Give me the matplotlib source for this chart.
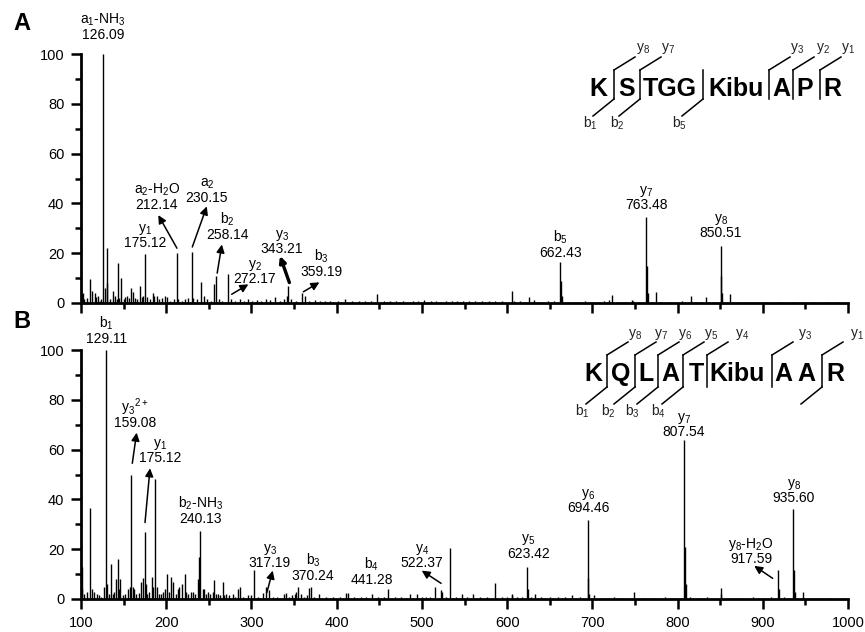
import matplotlib
matplotlib.use('Agg')
import matplotlib.pyplot as plt
from matplotlib.ticker import MultipleLocator
from matplotlib.transforms import Affine2D
from matplotlib.lines import Line2D

plt.rcParams['font.family'] = ['Liberation Sans', 'DejaVu Sans']
plt.rcParams['mathtext.default'] = 'regular'

W, H = 865, 632

# ---- panel A : KSTGGKibuAPR ----
mz_a = [100.8, 102, 104, 107, 110.5, 113, 116, 118, 120, 122, 124, 126.09, 128, 130, 131,
        134, 137, 140, 142, 143.5, 145, 147.4, 150, 152, 154, 156, 159, 161, 163, 166,
        169, 171, 173, 175.12, 178, 181, 184.6, 186, 188.6, 192, 195, 199, 201, 205, 209,
        212.14, 214, 218, 222, 226, 230.15, 232, 236, 240.7, 244, 248, 252, 256, 258.14,
        262, 266, 272.17, 276, 281, 286, 291, 296, 301, 306, 311, 317.6, 322, 327.4, 333,
        338, 341.9, 343.21, 346, 352, 359.19, 362.6, 367, 374.6, 381, 386, 392, 401, 410,
        418, 426, 433, 440, 447, 455, 462, 470, 478, 489, 496, 503, 511, 517, 528, 535,
        541, 548, 555, 562, 570, 579, 586, 594, 605.5, 608, 615, 626, 631.7, 640, 648, 655,
        662.43, 663.4, 664.4, 672, 681, 691.5, 700, 708, 714, 719, 723.6, 730, 738, 746.3,
        748, 754, 763.48, 764.5, 765.5, 769, 774.5, 780, 792, 805, 815.6, 822, 828, 833.5,
        842, 850.51, 851.5, 852.5, 861.7, 869, 880, 893, 905, 920, 935, 948, 960, 975, 990]
int_a = [3.5, 4, 1.5, 2, 9.5, 5, 4, 2.5, 3, 1, 1.5, 100, 6, 22, 8,
         1.5, 5, 3, 1.5, 16, 2, 10, 1.5, 2.5, 3, 2, 6, 4.5, 2, 1.5,
         7, 2.5, 3, 19.5, 2.5, 1.5, 4, 3, 3, 1.5, 2, 3, 2.5, 1, 1.5,
         20, 1.5, 1, 1.5, 2, 20.5, 2, 1.5, 8.5, 3, 1.5, 1, 7.5, 11,
         1.5, 1, 11.5, 1.5, 1, 1.5, 1, 1.5, 1, 1.2, 1, 1.5, 1.2, 2.5, 1,
         1.5, 3, 7, 1.5, 1, 4, 3, 1, 1.2, 0.8, 1, 0.8, 1, 1.5,
         0.8, 1, 0.7, 1, 3.5, 0.8, 1, 0.7, 1, 0.8, 1, 1.3, 0.8, 1, 0.7, 1,
         0.8, 1, 0.7, 0.8, 1, 0.8, 0.7, 0.9, 5, 1, 0.8, 2.5, 1.2, 0.6, 0.7, 0.8,
         16.5, 9, 3, 0.6, 0.5, 1, 0.5, 0.6, 0.8, 1.2, 3.3, 0.5, 0.6, 1.3,
         1, 0.5, 34.5, 15, 4, 0.6, 4.3, 0.5, 0.5, 0.8, 2.7, 0.6, 0.5, 2.3,
         0.5, 23, 11, 4, 3.5, 0.5, 0.4, 0.5, 0.4, 0.4, 0.5, 0.4, 0.4, 0.3, 0.3]

ion_a_name = ['a$_1$-NH$_3$', 'y$_1$', 'a$_2$-H$_2$O', 'a$_2$', 'b$_2$', 'y$_2$',
              'y$_3$', 'b$_3$', 'b$_5$', 'y$_7$', 'y$_8$']
ion_a_mz = ['126.09', '175.12', '212.14', '230.15', '258.14', '272.17',
            '343.21', '359.19', '662.43', '763.48', '850.51']
# where each label sits (m/z, % of number baseline)
lab_a = [(126, 106), (175, 22.5), (189, 37.7), (247.8, 40.5), (271.7, 25.7), (304, 8),
         (336, 20), (382.4, 10.8), (662.4, 18.5), (763.5, 37.8), (850.5, 26.5)]
# arrows: tail m/z, tail %, head m/z, head %, width
arr_a = [(212.6, 22, 190.7, 35.3, 1.1), (230.6, 22.5, 247.6, 38.8, 1.1),
         (259.8, 12, 265.3, 23.5, 1.1), (276.8, 3.5, 296.4, 7.5, 1.1),
         (344.5, 8.2, 333.5, 18.9, 2.4), (360.9, 4.5, 379.7, 8.3, 1.1)]

# ---- panel B : KQLATKibuAAR ----
mz_b = [100.6, 101.5, 104, 107.4, 110.5, 112.4, 115.5, 118.3, 121, 124, 127.5, 129.11, 131, 133,
        135, 137, 139, 141, 143, 144.5, 146, 149, 152, 154.6, 157.4, 159.08, 160.5, 162.5, 165,
        168, 170.3, 172.3, 175.12, 176.1, 178, 180, 182.9, 184.8, 186.8, 188.7, 191, 194, 196.6,
        198.5, 200.9, 203.6, 205.6, 208.3, 211, 213.4, 215.4, 218.5, 221.7, 223.2, 226, 229.1,
        231, 234, 236.9, 238.9, 240.13, 242.7, 244.7, 246.5, 248.6, 251, 254.5, 256.4, 258,
        260.3, 263, 266.2, 268, 270.1, 274, 278, 281, 283.8, 286.5, 290, 295.5, 300, 303.4,
        308, 313.2, 317.19, 320.2, 325, 330, 338.6, 340.6, 344, 347.6, 351, 352.3, 355, 358.2,
        362, 365, 368, 370.24, 373, 379.7, 388, 396, 404, 411.5, 413.5, 420, 428, 434, 441.28,
        448, 455, 460, 468, 476, 486, 493.8, 500, 505, 510, 515.5, 522.37, 524, 528, 533, 540,
        546.7, 553, 560.3, 568, 576, 586, 594, 600, 605.4, 606, 612, 618, 623.42, 624.4, 628,
        632.8, 640, 650.4, 660, 668, 676, 685, 694.46, 695.4, 696.5, 702, 715, 725, 735, 749,
        760, 772, 785, 795, 807.54, 808.5, 809.5, 815, 825, 835, 850.6, 851.5, 862, 875, 888,
        900, 910, 917.59, 918.6, 925, 935.6, 936.6, 937.6, 947, 955, 965, 980, 995]
int_b = [13, 4, 2, 3, 36.5, 4, 3, 2, 1.5, 1, 5, 100, 6, 2,
         14, 2, 3, 8, 16, 4, 8, 1.5, 2, 4, 5, 50, 5, 4, 2,
         2.5, 7, 8.5, 27, 6, 2, 3, 9, 5, 48, 5, 2, 2, 3,
         4, 10, 3, 9, 7, 2, 4, 5, 6, 10, 3, 2, 3,
         3, 2, 8, 17, 27.5, 4, 4, 2, 3, 2, 3, 7.5, 2,
         2, 1.5, 7, 1.5, 2, 1.5, 2, 1, 4, 5, 1, 1.5, 1.5, 11.7,
         1, 2.5, 5, 3.5, 1, 1, 2, 2.5, 1, 1.5, 2, 3, 5, 2,
         1, 1.5, 4.5, 5, 1, 2, 1, 1, 1, 2.5, 2.5, 1, 1, 1, 2,
         1, 1, 4, 1, 1, 2, 2, 1, 1, 1, 4.7, 3.5, 3, 1, 20.3, 1,
         2, 1, 2, 1, 1, 6.4, 1, 1, 2, 1.5, 1, 1, 13, 4, 1,
         2, 0.8, 1, 0.8, 0.8, 1.5, 0.8, 31.7, 8.4, 2, 1.5, 0.6, 0.8, 0.6, 3,
         0.6, 0.6, 0.8, 0.6, 64, 21, 6, 0.8, 0.6, 0.8, 4.3, 2, 0.6, 0.6, 0.8,
         0.6, 0.8, 11.6, 4, 0.8, 36, 11.8, 3, 3, 0.6, 0.5, 0.5, 0.5]

ion_b_name = ['b$_1$', 'y$_3{}^{2+}$', 'y$_1$', 'b$_2$-NH$_3$', 'y$_3$', 'b$_3$', 'b$_4$',
              'y$_4$', 'y$_5$', 'y$_6$', 'y$_7$', 'y$_8$-H$_2$O', 'y$_8$']
ion_b_mz = ['129.11', '159.08', '175.12', '240.13', '317.19', '370.24', '441.28',
            '522.37', '623.42', '694.46', '807.54', '917.59', '935.60']
lab_b = [(130, 102.8), (163.4, 69), (192.7, 55), (240.8, 30.5), (321.4, 12.9), (372.2, 7.6),
         (441.3, 6), (500, 12.8), (625, 16.6), (695, 35), (807.6, 65.3), (886.3, 14.3),
         (936.7, 39)]
arr_b = [(160.2, 54.5, 165.3, 66.8, 1.1), (175.1, 30.7, 181, 52.5, 1.1),
         (318, 2.5, 325, 11.4, 1.1), (522.5, 6.3, 499.8, 11.4, 1.1),
         (911.6, 8.3, 890, 13.3, 1.1)]

# ---- fragment maps (image pixel layout) ----
seq_a = ['K', 'S', 'TGG', 'Kibu', 'A', 'P', 'R']
seq_a_x = [598.5, 626.5, 670, 736.5, 781, 804.5, 832]
cut_a_x = [614, 640, 703, 769, 793, 820]
cut_a_y = ['y$_8$', 'y$_7$', None, 'y$_3$', 'y$_2$', 'y$_1$']
cut_a_b = ['b$_1$', 'b$_2$', 'b$_5$', None, None, None]
ylab_a_x = [643, 668, None, 797, 823, 848]
blab_a_x = [590, 617, 679, None, None, None]

seq_b = ['K', 'Q', 'L', 'A', 'T', 'Kibu', 'A', 'A', 'R']
seq_b_x = [593.5, 621, 646, 670.5, 696, 737.5, 783.5, 806, 835]
cut_b_x = [607, 635, 658, 683, 707, 772, 822]
cut_b_y = ['y$_8$', 'y$_7$', 'y$_6$', 'y$_5$', 'y$_4$', 'y$_3$', 'y$_1$']
cut_b_b = ['b$_1$', 'b$_2$', 'b$_3$', 'b$_4$', None, None, '']
ylab_b_x = [635, 661, 685, 711, 742, 805, 857]
blab_b_x = [582, 608, 632, 658, None, None, None]


def draw_spectrum(ax, mz, inten, names, mzs, labs, arrows, show_x):
    ax.vlines(mz, 0, inten, color='k', lw=1.0, clip_on=False, zorder=2)
    ax.set_xlim(100, 1000)
    ax.set_ylim(0, 100)
    for s in ['top', 'right']:
        ax.spines[s].set_visible(False)
    for s in ['left', 'bottom']:
        ax.spines[s].set_linewidth(2.0)
        ax.spines[s].set_zorder(3)
    ax.xaxis.set_major_locator(MultipleLocator(100))
    ax.xaxis.set_minor_locator(MultipleLocator(50))
    ax.yaxis.set_major_locator(MultipleLocator(20))
    ax.yaxis.set_minor_locator(MultipleLocator(10))
    ax.tick_params(which='major', direction='out', length=7, width=1.8, labelsize=10.5, pad=5)
    ax.tick_params(which='minor', direction='out', length=4, width=1.8)
    if not show_x:
        ax.tick_params(axis='x', labelbottom=False)
    for nm, num, (tx, ty) in zip(names, mzs, labs):
        ax.text(tx, ty, num, ha='center', va='baseline', fontsize=10, clip_on=False)
        ax.annotate(nm, (tx, ty), xytext=(0, 11), textcoords='offset points',
                    ha='center', va='baseline', fontsize=10, annotation_clip=False)
    for x0, y0, x1, y1, lw in arrows:
        ax.annotate('', xy=(x1, y1), xytext=(x0, y0), annotation_clip=False,
                    arrowprops=dict(arrowstyle='-|>', color='k', lw=lw,
                                    mutation_scale=12 if lw < 2 else 9,
                                    shrinkA=0, shrinkB=0))


def draw_map(fig, tr, seq, seq_x, base, cuts, ylabs, blabs, ylx, blx, top, bot):
    for s, x in zip(seq, seq_x):
        fig.text(x, base, s, transform=tr, ha='center', va='baseline',
                 fontsize=18, fontweight='bold')
    for i, x in enumerate(cuts):
        fig.add_artist(Line2D([x, x], [top, bot], transform=tr, color='k', lw=1.1))
        if ylabs[i] is not None:
            fig.add_artist(Line2D([x, x + 21], [top, top - 13], transform=tr, color='k', lw=1.1))
            fig.text(ylx[i], top - 21, ylabs[i], transform=tr, ha='center',
                     va='center', fontsize=10, color='#222222')
        if blabs[i] is not None:
            fig.add_artist(Line2D([x, x - 21], [bot, bot + 17], transform=tr, color='k', lw=1.1))
            if blabs[i]:
                fig.text(blx[i], bot + 24, blabs[i], transform=tr, ha='center',
                         va='center', fontsize=10, color='#222222')


fig = plt.figure(figsize=(W / 100, H / 100), dpi=100)
tr = Affine2D().scale(1 / W, -1 / H).translate(0, 1) + fig.transFigure

ax1 = fig.add_axes([81 / W, 1 - 303 / H, 767 / W, 249 / H])
ax2 = fig.add_axes([81 / W, 1 - 599 / H, 767 / W, 249 / H])

draw_spectrum(ax1, mz_a, int_a, ion_a_name, ion_a_mz, lab_a, arr_a, False)
draw_spectrum(ax2, mz_b, int_b, ion_b_name, ion_b_mz, lab_b, arr_b, True)

draw_map(fig, tr, seq_a, seq_a_x, 96, cut_a_x, cut_a_y, cut_a_b, ylab_a_x, blab_a_x, 70, 99)
draw_map(fig, tr, seq_b, seq_b_x, 381, cut_b_x, cut_b_y, cut_b_b, ylab_b_x, blab_b_x, 355, 387)

fig.text(13, 30, 'A', transform=tr, fontsize=17, fontweight='bold', va='baseline')
fig.text(13, 328, 'B', transform=tr, fontsize=17, fontweight='bold', va='baseline')

fig.savefig('out.png', dpi=100)
